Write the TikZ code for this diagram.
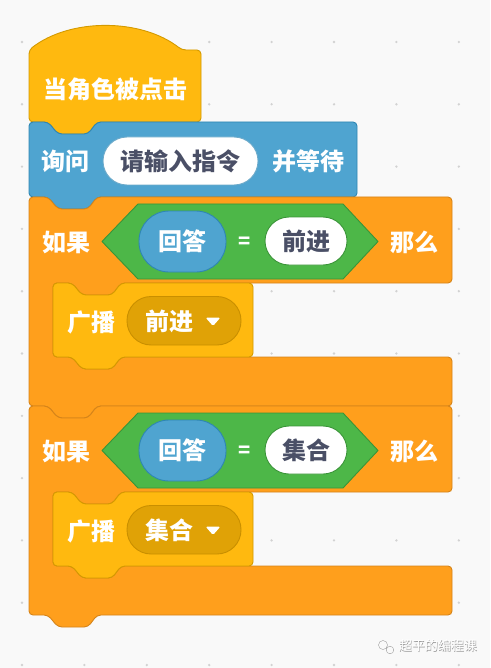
\documentclass[tikz,border=0pt]{standalone}
\usepackage{fontspec}
\newfontfamily\cjk{Noto Sans CJK SC}
\definecolor{bg}{HTML}{F9F9F9}
\definecolor{dotc}{HTML}{D2D2D2}
\definecolor{hatf}{HTML}{FFB90F}
\definecolor{hatd}{HTML}{D49A00}
\definecolor{askf}{HTML}{4FA4D0}
\definecolor{askd}{HTML}{2E86B3}
\definecolor{ctlf}{HTML}{FF9F1C}
\definecolor{ctld}{HTML}{D5841A}
\definecolor{opf}{HTML}{4DB748}
\definecolor{opd}{HTML}{3A9438}
\definecolor{ddf}{HTML}{E0A206}
\definecolor{ddd}{HTML}{C98F00}
\definecolor{intext}{HTML}{4A4F66}
\begin{document}
\begin{tikzpicture}[x=1pt,y=-1pt,
  blk/.style={line width=0.9pt, rounded corners=4pt, line join=round},
  lbl/.style={font=\cjk\bfseries\fontsize{24}{24}\selectfont, text=white, inner sep=0pt},
  intxt/.style={font=\cjk\bfseries\fontsize{24}{24}\selectfont, text=intext, inner sep=0pt},
  pill/.style={line width=0.9pt},
  wm/.style={font=\cjk\fontsize{13}{13}\selectfont, inner sep=0pt}
]
\useasboundingbox (0,0) rectangle (490,668);
\fill[bg] (0,0) rectangle (490,668);
% dot grid
\foreach \i in {0,...,7}{
  \foreach \j in {0,...,10}{
    \fill[dotc] (22+62.4*\i, 42+62.3*\j) circle (1.3pt);
  }
}
% hat block
\draw[blk, fill=hatf, draw=hatd] (29,122) -- (29,50)
  .. controls (70,18) and (141,18) .. (182,50) -- (201,50) -- (201,122)
  -- (97,122) -- (88,134) -- (58,134) -- (48,122) -- cycle;
\node[lbl] (hat) at (115,89) {当角色被点击};
% ask block
\draw[blk, fill=askf, draw=askd] (29,122) -- (48,122) -- (58,134) -- (88,134) -- (97,122)
  -- (357,122) -- (357,197) -- (97,197) -- (88,209) -- (58,209) -- (48,197) -- (29,197) -- cycle;
\node[lbl] (ask) at (65.5,161) {询问};
\draw[pill, fill=white, draw=askd!70, rounded corners=24pt] (103,137) rectangle (258,185);
\node[intxt] (prompt) at (180.5,161) {请输入指令};
\node[lbl] (wait) at (308.5,161) {并等待};
% two if blocks
\foreach \o/\w in {0/前进,209/集合}{
  \begin{scope}[yshift=-\o pt]
  \draw[blk, fill=ctlf, draw=ctld] (29,197) -- (48,197) -- (58,209) -- (88,209) -- (97,197)
    -- (452,197) -- (452,283) -- (121,283) -- (112,295) -- (82,295) -- (72,283) -- (53,283)
    -- (53,357) -- (72,357) -- (82,369) -- (112,369) -- (121,357) -- (452,357) -- (452,406)
    -- (97,406) -- (88,418) -- (58,418) -- (48,406) -- (29,406) -- cycle;
  \node[lbl] (if\o) at (66,242) {如果};
  \draw[pill, fill=opf, draw=opd, line join=round] (102,241.5) -- (138,204) -- (343,204)
    -- (378,241.5) -- (343,279) -- (138,279) -- cycle;
  \draw[pill, fill=askf, draw=askd, rounded corners=30pt] (139,211) rectangle (226,272);
  \node[lbl] (ans\o) at (182.5,241.5) {回答};
  \node[lbl, font=\cjk\bfseries\fontsize{20}{20}\selectfont] (eq\o) at (245,242.5) {=};
  \draw[pill, fill=white, draw=opd, rounded corners=24pt] (265,217) rectangle (347,265);
  \node[intxt] (val\o) at (306,241) {\w};
  \node[lbl] (then\o) at (414.5,242) {那么};
  % broadcast
  \draw[blk, fill=hatf, draw=hatd] (53,283) -- (72,283) -- (82,295) -- (112,295) -- (121,283)
    -- (253,283) -- (253,357) -- (121,357) -- (112,369) -- (82,369) -- (72,357) -- (53,357) -- cycle;
  \node[lbl] (bc\o) at (91,322) {广播};
  \draw[pill, fill=ddf, draw=ddd, rounded corners=24pt] (127,296.5) rectangle (241,345);
  \node[lbl] (msg\o) at (169,321.5) {\w};
  \fill[white, rounded corners=1.5pt] (205.5,317.5) -- (220.5,317.5) -- (213,326) -- cycle;
  \end{scope}
}
% watermark
\draw[white, line width=1.4pt] (383,645) circle (4.5pt) (390,650) circle (3.8pt);
\draw[gray!70, line width=0.5pt] (383,645) circle (4.5pt) (390,650) circle (3.8pt);
\node[wm, text=gray!80] (wmshadow) at (438.6,646.6) {超平的编程课};
\node[wm, text=white] (wmtext) at (438,646) {超平的编程课};
\end{tikzpicture}
\end{document}
